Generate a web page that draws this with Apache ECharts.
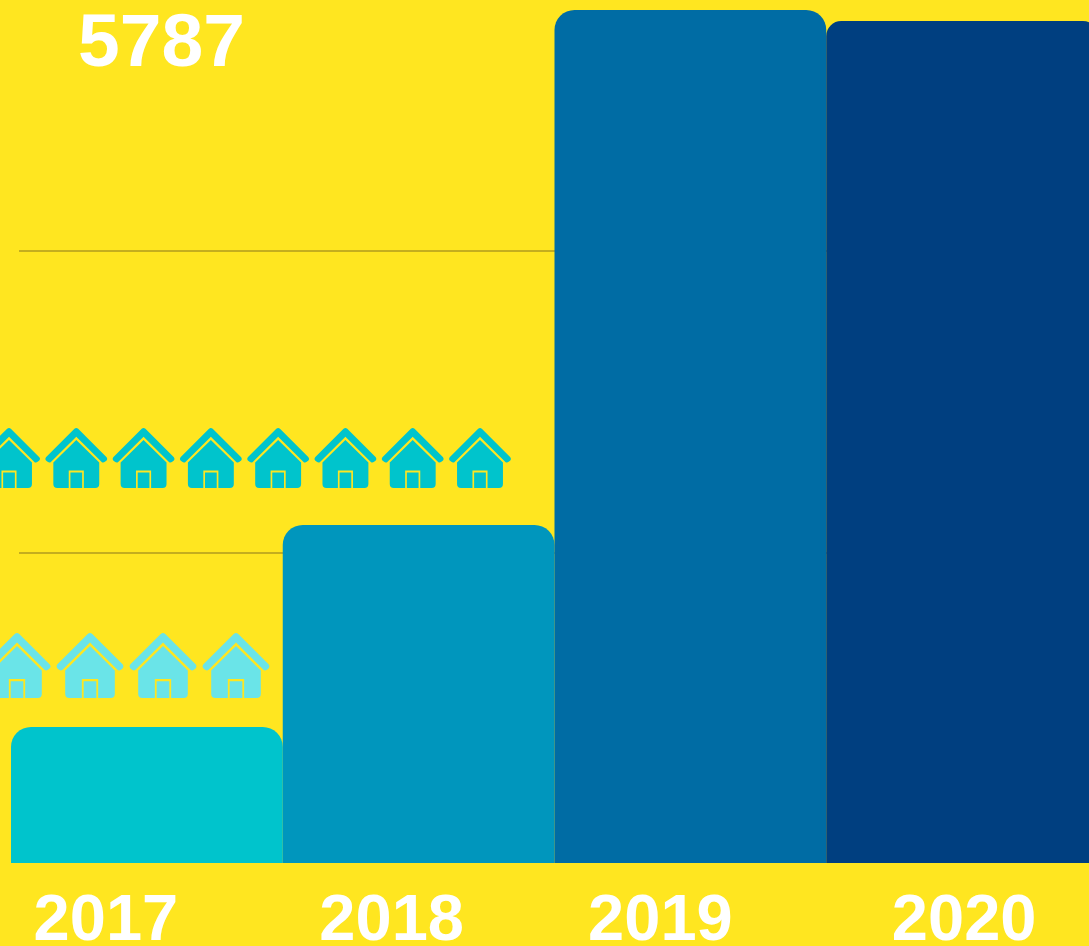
<!DOCTYPE html>
<html lang="en">

<head>
    <meta charset="UTF-8">
    <title>5787</title>
    <style>
        html, body { margin: 0; padding: 0; background: #ffe620; overflow: hidden; }
        #chart { width: 1089px; height: 946px; }
    </style>
</head>

<body>
    <div id="chart"></div>
    <script src="https://cdn.jsdelivr.net/npm/echarts@6/dist/echarts.min.js"></script>
    <script>
        var years = ['2017', '2018', '2019', '2020'];
        var barValues = [923, 2293, 5787, 5712];
        var barColors = ['#00c4cc', '#0096bd', '#006ca4', '#003f80'];
        var labelShifts = [82, 54, 60, -4]; // year labels do not sit centred on their bars
        var gridValues = [2103, 4152];
        var headline = '5787';
        var houseCounts = [8, 4];

        // house icon: roof chevron, body with door notch, door
        var housePath = 'path://M87 3Q92.5 -1 98 3L183 88Q187 93 183 98L178 102Q173 106 169 103L92.5 27L16 103Q12 106 7 102L2 98Q-2 93 2 88Z' +
            'M92.5 37L161 104L161 168Q161 180 149 180L115 180L115 128L70 128L70 180L36 180Q24 180 24 168L24 104Z' +
            'M75 134L110 134L110 180L75 180Z';

        var font = '"Liberation Sans", Arial, sans-serif';
        var mChart = echarts.init(document.getElementById('chart'));

        function houseSeries(index, color, size) {
            return {
                type: 'pictorialBar',
                xAxisIndex: index,
                yAxisIndex: index,
                symbol: housePath,
                symbolSize: size,
                symbolRepeat: houseCounts[index - 2],
                symbolPosition: 'start',
                barWidth: size[1],
                itemStyle: { color: color },
                silent: true,
                data: [houseCounts[index - 2]]
            };
        }

        var option = {
            backgroundColor: '#ffe620',
            animation: false,
            title: {
                text: headline,
                left: 73,
                top: 3,
                textStyle: { color: '#fff', fontFamily: font, fontWeight: 'bold', fontSize: 75 }
            },
            grid: [
                { left: 11, top: 10, width: 1087, height: 853, outerBoundsMode: 'none' }, // bars
                { left: 19, top: 10, width: 1070, height: 853, outerBoundsMode: 'none' }, // the two guide lines start a bit further in
                { left: -22, top: 428, width: 533, height: 60, outerBoundsMode: 'none' }, // upper house row
                { left: -16.5, top: 633, width: 286, height: 65, outerBoundsMode: 'none' } // lower house row
            ],
            xAxis: [
                {
                    type: 'category',
                    gridIndex: 0,
                    data: years.map(function (y, i) {
                        var s = labelShifts[i];
                        return { value: y, textStyle: { padding: [0, Math.max(s, 0), 0, Math.max(-s, 0)] } };
                    }),
                    axisLine: { show: false },
                    axisTick: { show: false },
                    axisLabel: {
                        interval: 0,
                        margin: 27,
                        color: '#fff',
                        fontFamily: font,
                        fontWeight: 'bold',
                        fontSize: 65
                    }
                },
                { type: 'value', gridIndex: 1, show: false, min: 0, max: 1 },
                { type: 'value', gridIndex: 2, show: false, min: 0, max: houseCounts[0] },
                { type: 'value', gridIndex: 3, show: false, min: 0, max: houseCounts[1] }
            ],
            yAxis: [
                { type: 'value', gridIndex: 0, min: 0, max: 5787, show: false },
                {
                    type: 'value',
                    gridIndex: 1,
                    min: 0,
                    max: 5787,
                    axisLine: { show: false },
                    axisTick: { show: false, customValues: gridValues },
                    axisLabel: { show: false, customValues: gridValues },
                    splitLine: { show: true, lineStyle: { color: '#c4ae1e', width: 2 } }
                },
                { type: 'category', gridIndex: 2, show: false, data: ['row'] },
                { type: 'category', gridIndex: 3, show: false, data: ['row'] }
            ],
            series: [
                {
                    type: 'bar',
                    xAxisIndex: 0,
                    yAxisIndex: 0,
                    barWidth: '100%',
                    z: 5,
                    data: barValues.map(function (v, i) {
                        return {
                            value: v,
                            itemStyle: { color: barColors[i], borderRadius: [i === 3 ? 15 : 20, i === 3 ? 15 : 20, 0, 0] }
                        };
                    })
                },
                houseSeries(2, '#00c4cc', [62, 60]),
                houseSeries(3, '#6ae4e8', [67, 65])
            ]
        };

        mChart.setOption(option);
    </script>
</body>

</html>
